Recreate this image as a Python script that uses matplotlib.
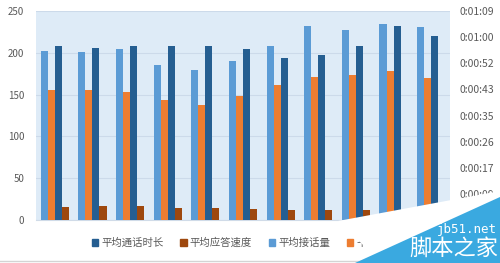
import matplotlib
matplotlib.use('Agg')
import matplotlib.pyplot as plt
import numpy as np
from matplotlib.patches import Polygon, Patch
from matplotlib.lines import Line2D

plt.rcParams['font.family'] = ['Noto Sans CJK SC', 'DejaVu Sans']

# 数据
groups = np.arange(11)
jiehua = [202, 201, 205, 186, 179, 190, 208, 232, 227, 235, 231]       # 平均接话量
jietong = [155, 155, 153, 143, 138, 148, 162, 171, 173, 178, 170]      # 第四个系列(被水印遮住)
tonghua_s = [57.7, 57.0, 57.7, 57.4, 57.7, 56.7, 53.7, 54.6, 57.4, 64.1, 60.7]  # 平均通话时长(秒)
yingda_s = [4.4, 4.7, 4.7, 3.9, 4.0, 3.5, 3.3, 3.3, 3.3, 3.3, 3.3]    # 平均应答速度(秒)
left_ticks = [0, 50, 100, 150, 200, 250]
right_ticks = [i * 8.64 for i in range(9)]   # 0.0001天一格

c_light = '#5b9bd5'
c_orange = '#ed7d31'
c_dark = '#255e91'
c_brown = '#9e480e'
grey = '#595959'


def fmt_time(s):
    s = int(round(s))
    return '%d:%02d:%02d' % (s // 3600, (s % 3600) // 60, s % 60)


W, H = 500, 263
fig = plt.figure(figsize=(5, 2.63), dpi=100)
ax = fig.add_axes([36 / W, 1 - 220 / H, 414 / W, 209 / H])
ax2 = ax.twinx()

w = 0.187
ax.set_facecolor('#deebf7')
ax.bar(groups - 1.5 * w, jiehua, w, color=c_light, zorder=3)
ax.bar(groups - 0.5 * w, jietong, w, color=c_orange, zorder=3)
ax2.bar(groups + 0.5 * w, tonghua_s, w, color=c_dark, zorder=3)
ax2.bar(groups + 1.5 * w, yingda_s, w, color=c_brown, zorder=3)

ax.set_xlim(-0.5, 10.5)
ax.set_ylim(0, 250)
ax.set_yticks(left_ticks)
ax.set_xticks([])
ax.grid(axis='y', color='#ccdaea', lw=0.8, zorder=0)
ax.tick_params(axis='y', length=0, pad=8.5, labelsize=7, labelcolor=grey)

ax2.set_ylim(0, 69.12)
ax2.set_yticks(right_ticks)
ax2.set_yticklabels([fmt_time(t) for t in right_ticks])
ax2.tick_params(axis='y', length=0, pad=7, labelsize=7.5, labelcolor=grey)

for a in (ax, ax2):
    for sp in a.spines.values():
        sp.set_visible(False)
ax.spines['bottom'].set_visible(True)
ax.spines['bottom'].set_color('#d0dbe8')

# 图例
handles = [Patch(color=c_dark), Patch(color=c_brown), Patch(color=c_light), Patch(color=c_orange)]
labels = ['平均通话时长', '平均应答速度', '平均接话量', '平均接通量']
fig.legend(handles, labels, loc='center', bbox_to_anchor=(0.5, 1 - 243 / H), ncol=4,
           frameon=False, fontsize=7.5, labelcolor=grey, handlelength=0.6, handleheight=0.6,
           handletextpad=0.3, columnspacing=1.6)

# 底部灰线
fig.add_artist(Line2D([0, 1], [1 - 260.5 / H, 1 - 260.5 / H], color='#d4d4d4', lw=1,
                      transform=fig.transFigure))


# 水印
def px(pts):
    return [(x / W, 1 - y / H) for x, y in pts]


fig.add_artist(Polygon(px([(338, 221), (500, 191), (500, 263), (382, 263)]), closed=True,
                       facecolor='white', edgecolor='none', transform=fig.transFigure, zorder=10))
fig.add_artist(Polygon(px([(355, 263), (500, 197), (500, 263)]), closed=True,
                       facecolor='#3aa9e0', edgecolor='none', transform=fig.transFigure, zorder=11))
fig.text(497 / W, 1 - 229.5 / H, 'jb51.net', color='white', fontsize=9, family='DejaVu Sans Mono',
         ha='right', va='center', zorder=12)
fig.text(498 / W, 1 - 248 / H, '脚本之家', color='white', fontsize=16, ha='right', va='center', zorder=12)

fig.savefig('out.png', dpi=100)
